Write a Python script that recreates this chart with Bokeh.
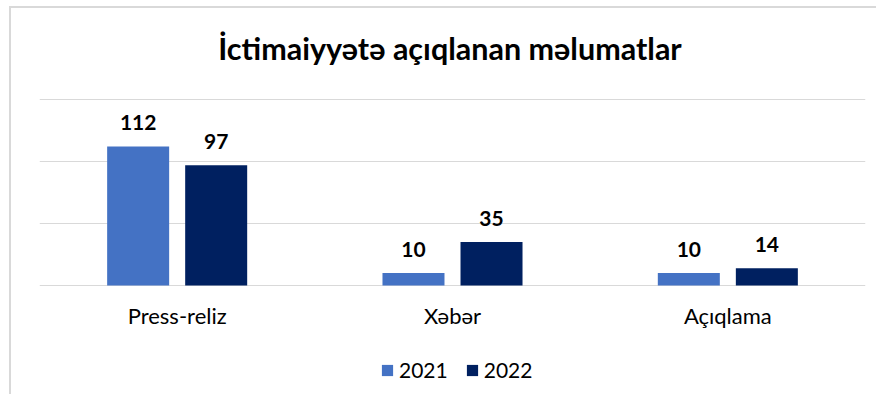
from bokeh.plotting import figure
from bokeh.models import (ColumnDataSource, FactorRange, Legend, LegendItem,
                          Range1d, FixedTicker)
from bokeh.layouts import column
from bokeh.transform import dodge
from bokeh.embed import file_html
from bokeh.resources import INLINE
from bokeh.core.properties import value

categories = ["Press-reliz", "Xəbər", "Açıqlama"]
years = ["2021", "2022"]
values_2021 = [112, 10, 10]
values_2022 = [97, 35, 14]
y_ticks = [0, 50, 100, 150]
title_text = "İctimaiyyətə açıqlanan məlumatlar"

FONT = "Lato"
C2021 = "#4472C4"
C2022 = "#002060"
GRID = "#d9d9d9"

src = ColumnDataSource(dict(
    cat=categories,
    v2021=values_2021,
    v2022=values_2022,
    l2021=[str(v) for v in values_2021],
    l2022=[str(v) for v in values_2022],
))

# layout in pixels: canvas 386 tall; top gridline 91 px below canvas top,
# baseline 109 px above canvas bottom, 1.24 px per unit
PX = 1.24
TOP_PX = 91
BOTTOM_PX = 109
ymax = y_ticks[-1]
p = figure(x_range=FactorRange(*categories, range_padding=0),
           y_range=Range1d(-BOTTOM_PX / PX, ymax + TOP_PX / PX),
           width=865, height=386,
           output_backend="svg", toolbar_location=None,
           min_border_left=28, min_border_right=11,
           min_border_top=0, min_border_bottom=0)

BW = 0.2252
OFF = 0.1417
r1 = p.vbar(x=dodge("cat", -OFF, range=p.x_range), top="v2021", width=BW,
            source=src, fill_color=C2021, line_color=None)
r2 = p.vbar(x=dodge("cat", OFF, range=p.x_range), top="v2022", width=BW,
            source=src, fill_color=C2022, line_color=None)

for off, col in ((-OFF, "2021"), (OFF, "2022")):
    p.text(x=dodge("cat", off, range=p.x_range), y="v" + col, text="l" + col,
           source=src, text_align="center", text_baseline="alphabetic",
           y_offset=-24, text_font=value(FONT), text_font_style="bold",
           text_font_size="21px", text_color="black")

# category labels under the baseline
p.text(x="cat", y=0, text="cat", source=src, text_align="center",
       text_baseline="alphabetic", y_offset=30, text_font=value(FONT),
       text_font_size="22px", text_color="black")

# chart title, centred over the plot area above the top gridline
p.text(x=[categories[1]], y=[ymax], text=[title_text], text_align="center",
       text_baseline="alphabetic", x_offset=-2.5, y_offset=-52,
       text_font=value(FONT), text_font_style="bold",
       text_font_size="30.5px", text_color="black")

p.yaxis.visible = False
p.xaxis.visible = False

p.xgrid.grid_line_color = None
p.ygrid.ticker = FixedTicker(ticks=y_ticks)
p.ygrid.grid_line_color = GRID
p.outline_line_color = None

legend = Legend(items=[LegendItem(label=years[0], renderers=[r1]),
                       LegendItem(label=years[1], renderers=[r2])],
                orientation="horizontal", location=(341, 12),
                glyph_width=14, glyph_height=14, label_standoff=5,
                spacing=17, padding=0, margin=0,
                border_line_alpha=0, background_fill_alpha=0,
                label_text_font=FONT, label_text_font_size="21px",
                label_text_color="black")
p.add_layout(legend)

layout = column(p, styles={"border-left": f"2px solid {GRID}",
                           "border-top": f"2px solid {GRID}",
                           "margin-left": "9px", "margin-top": "6px"})

open("out.html", "w").write(file_html(layout, INLINE))
